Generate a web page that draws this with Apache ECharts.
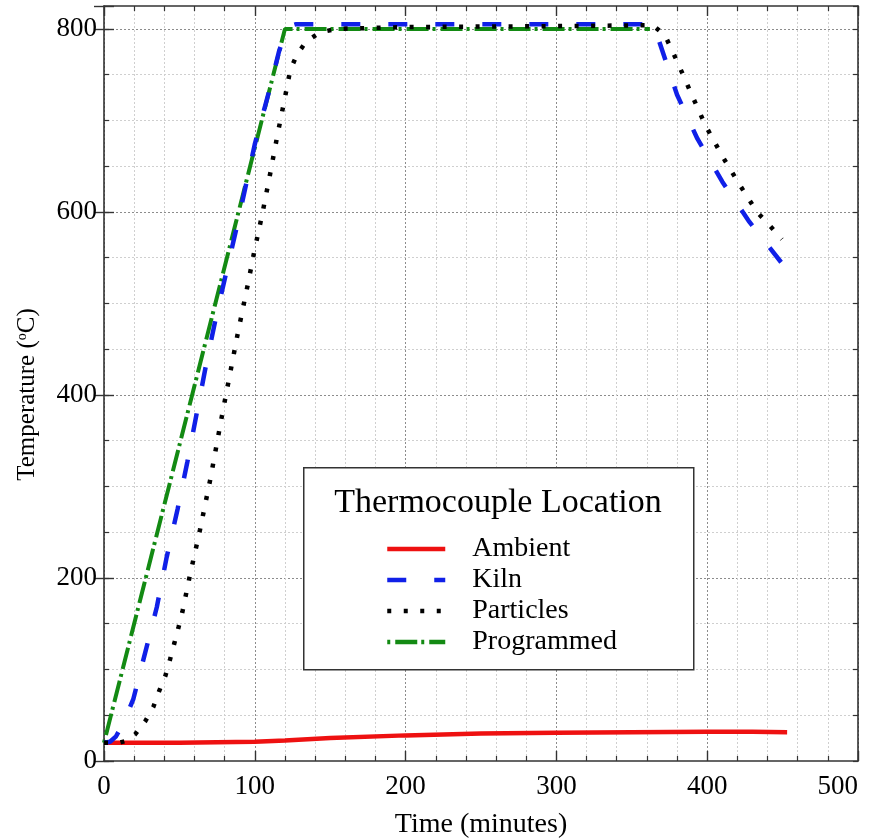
<!DOCTYPE html>
<html>
<head>
<meta charset="utf-8">
<script src="https://cdn.jsdelivr.net/npm/echarts@6/dist/echarts.min.js"></script>
<style>html,body{margin:0;padding:0;background:#fff}#c{width:872px;height:840px}</style>
</head>
<body>
<div id="c"></div>
<script>
// ---- data ----
const ambientTime = [0, 50, 100, 120, 150, 200, 250, 300, 350, 400, 430, 453];
const ambientTemp = [20, 20, 21, 22.5, 25, 28, 30, 31, 31.5, 32, 32, 31.5];

const kilnTime = [0, 4, 8, 13, 19.5, 26, 35, 41.6, 48.9, 55.3, 61.5, 67.7, 74.4, 81.5, 88.8, 100, 110, 116, 120, 123, 127, 200, 300, 362, 366, 380, 393.5, 410, 428, 449];
const kilnTemp = [20, 21, 27, 42, 68, 110, 168, 223, 276, 327, 380, 433, 486, 537, 589, 674, 735, 775, 795, 803, 805, 805, 805, 805, 797, 728, 680, 633, 589, 545];

const particlesTime = [0, 10, 15, 20.6, 27.2, 32.7, 36.7, 40.7, 43.8, 46.7, 49.4, 52, 56.6, 63.7, 70.4, 78.3, 82.5, 88.8, 95.4, 99.8, 105, 110, 115, 120, 123.5, 128, 134, 143, 154, 200, 300, 364, 372, 381, 390, 399, 410, 421, 433, 441, 449.5];
const particlesTemp = [20, 20, 22, 29, 43, 59, 77, 93, 111, 129, 146, 163, 200, 253, 307, 378, 414, 468, 521, 558, 598, 640, 684, 725, 755, 772, 786, 796, 800, 802, 803, 804, 793, 761, 727, 694, 661, 631, 600, 586, 570];

const programmedTime = [0, 120, 362];
const programmedTemp = [20, 800, 800];

const seriesNames = ['Ambient', 'Kiln', 'Particles', 'Programmed'];
const xTicks = [0, 100, 200, 300, 400, 500];
const yTicks = [0, 200, 400, 600, 800];

function pairs(t, v) { return t.map((x, i) => [x, v[i]]); }

const FONT = '"Liberation Serif", "Times New Roman", serif';
const frame = { show: true, onZero: false, lineStyle: { color: '#333', width: 1.6 } };
const noLine = { show: false };
const MAJOR = '#8c8c8c', MINOR = '#cfcfcf';
const YMAX = 825;
const tickMajor = { show: true, inside: true, length: 10, lineStyle: { color: '#333', width: 1.4 } };
const tickMinor = { show: true, inside: true, length: 5, lineStyle: { color: '#333', width: 1.2 } };

const chart = echarts.init(document.getElementById('c'), null, { renderer: 'canvas' });
chart.setOption({
  backgroundColor: '#fff',
  animation: false,
  grid: { left: 104, right: 14, top: 6, bottom: 79, containLabel: false, outerBoundsMode: 'none' },
  xAxis: [{
    type: 'value', position: 'bottom', min: 0, max: 500, interval: 100,
    name: 'Time (minutes)', nameLocation: 'middle', nameGap: 50,
    nameTextStyle: { fontFamily: FONT, fontSize: 28, color: '#000' },
    axisLine: frame,
    axisTick: tickMajor,
    minorTick: { show: true, splitNumber: 5, length: 5, lineStyle: { color: '#333', width: 1.2 } },
    axisLabel: { fontFamily: FONT, fontSize: 27, color: '#000', margin: 12, alignMaxLabel: 'right',
      formatter: v => (xTicks.indexOf(v) >= 0 ? String(v) : '') },
    splitLine: { show: true, lineStyle: { color: MAJOR, type: [2, 2], width: 1 } },
    minorSplitLine: { show: true, lineStyle: { color: MINOR, type: [2, 2], width: 1 } }
  }, {
    type: 'value', position: 'top', min: 0, max: 500, interval: 100,
    axisLine: frame,
    axisTick: tickMajor,
    minorTick: { show: true, splitNumber: 5, length: 5, lineStyle: { color: '#333', width: 1.2 } },
    axisLabel: { show: false }, splitLine: { show: false }
  }],
  yAxis: [{
    type: 'value', position: 'left', min: 0, max: YMAX, interval: 50,
    name: 'Temperature ({sup|o}C)', nameLocation: 'middle', nameGap: 64, nameRotate: 90,
    nameTextStyle: { fontFamily: FONT, fontSize: 25, color: '#000', padding: [0, 22, 0, 0],
      rich: { sup: { fontFamily: FONT, fontSize: 14, color: '#000', padding: [0, 0, 10, 0] } } },
    axisLine: frame,
    axisTick: tickMinor,
    axisLabel: { fontFamily: FONT, fontSize: 27, color: '#000', margin: 7, showMaxLabel: false,
      formatter: v => (yTicks.indexOf(v) >= 0 ? String(v) : '') },
    splitLine: { show: true, showMinLine: false, showMaxLine: false,
      lineStyle: { color: [MINOR, MINOR, MINOR, MAJOR], type: [2, 2], width: 1 } }
  }, {
    type: 'value', position: 'right', min: 0, max: YMAX, interval: 50,
    axisLine: frame, axisTick: tickMinor,
    axisLabel: { show: false }, splitLine: { show: false }
  }, {
    type: 'value', position: 'left', min: 0, max: YMAX, interval: 200,
    axisLine: noLine, axisTick: tickMajor,
    axisLabel: { show: false }, splitLine: { show: false }
  }, {
    type: 'value', position: 'right', min: 0, max: YMAX, interval: 200,
    axisLine: noLine, axisTick: tickMajor,
    axisLabel: { show: false }, splitLine: { show: false }
  }],
  graphic: [
    { type: 'rect', left: 303, top: 467, z: 50,
      shape: { width: 390, height: 202 },
      style: { fill: '#fff', stroke: '#333', lineWidth: 1.5 } },
    { type: 'text', x: 498, y: 503, z: 51,
      style: { text: 'Thermocouple Location', font: '34px ' + FONT, fill: '#000',
        textAlign: 'center', textVerticalAlign: 'middle' } }
  ],
  legend: {
    data: seriesNames, orient: 'vertical', left: 380, top: 530, z: 60,
    itemWidth: 58, itemHeight: 14, itemGap: 3,
    itemStyle: { opacity: 0 },
    lineStyle: { width: 4.5 },
    textStyle: { fontFamily: FONT, fontSize: 28, color: '#000', padding: [0, 0, 0, 22], lineHeight: 28 },
    selectedMode: false
  },
  series: [
    { name: 'Ambient', type: 'line', data: pairs(ambientTime, ambientTemp), symbol: 'none', z: 3,
      lineStyle: { color: '#ee1111', width: 4.5 }, itemStyle: { color: '#ee1111' } },
    { name: 'Kiln', type: 'line', data: pairs(kilnTime, kilnTemp), symbol: 'none', z: 5,
      lineStyle: { color: '#1020e8', width: 4.5, type: [19, 28], cap: 'butt' }, itemStyle: { color: '#1020e8' } },
    { name: 'Particles', type: 'line', data: pairs(particlesTime, particlesTemp), symbol: 'none', z: 6,
      lineStyle: { color: '#000', width: 4.5, type: [4, 12.5], cap: 'butt' }, itemStyle: { color: '#000' } },
    { name: 'Programmed', type: 'line', data: pairs(programmedTime, programmedTemp), symbol: 'none', z: 4,
      lineStyle: { color: '#138a13', width: 4, type: [3, 5, 22, 4], cap: 'butt' }, itemStyle: { color: '#138a13' } }
  ]
});
</script>
</body>
</html>
